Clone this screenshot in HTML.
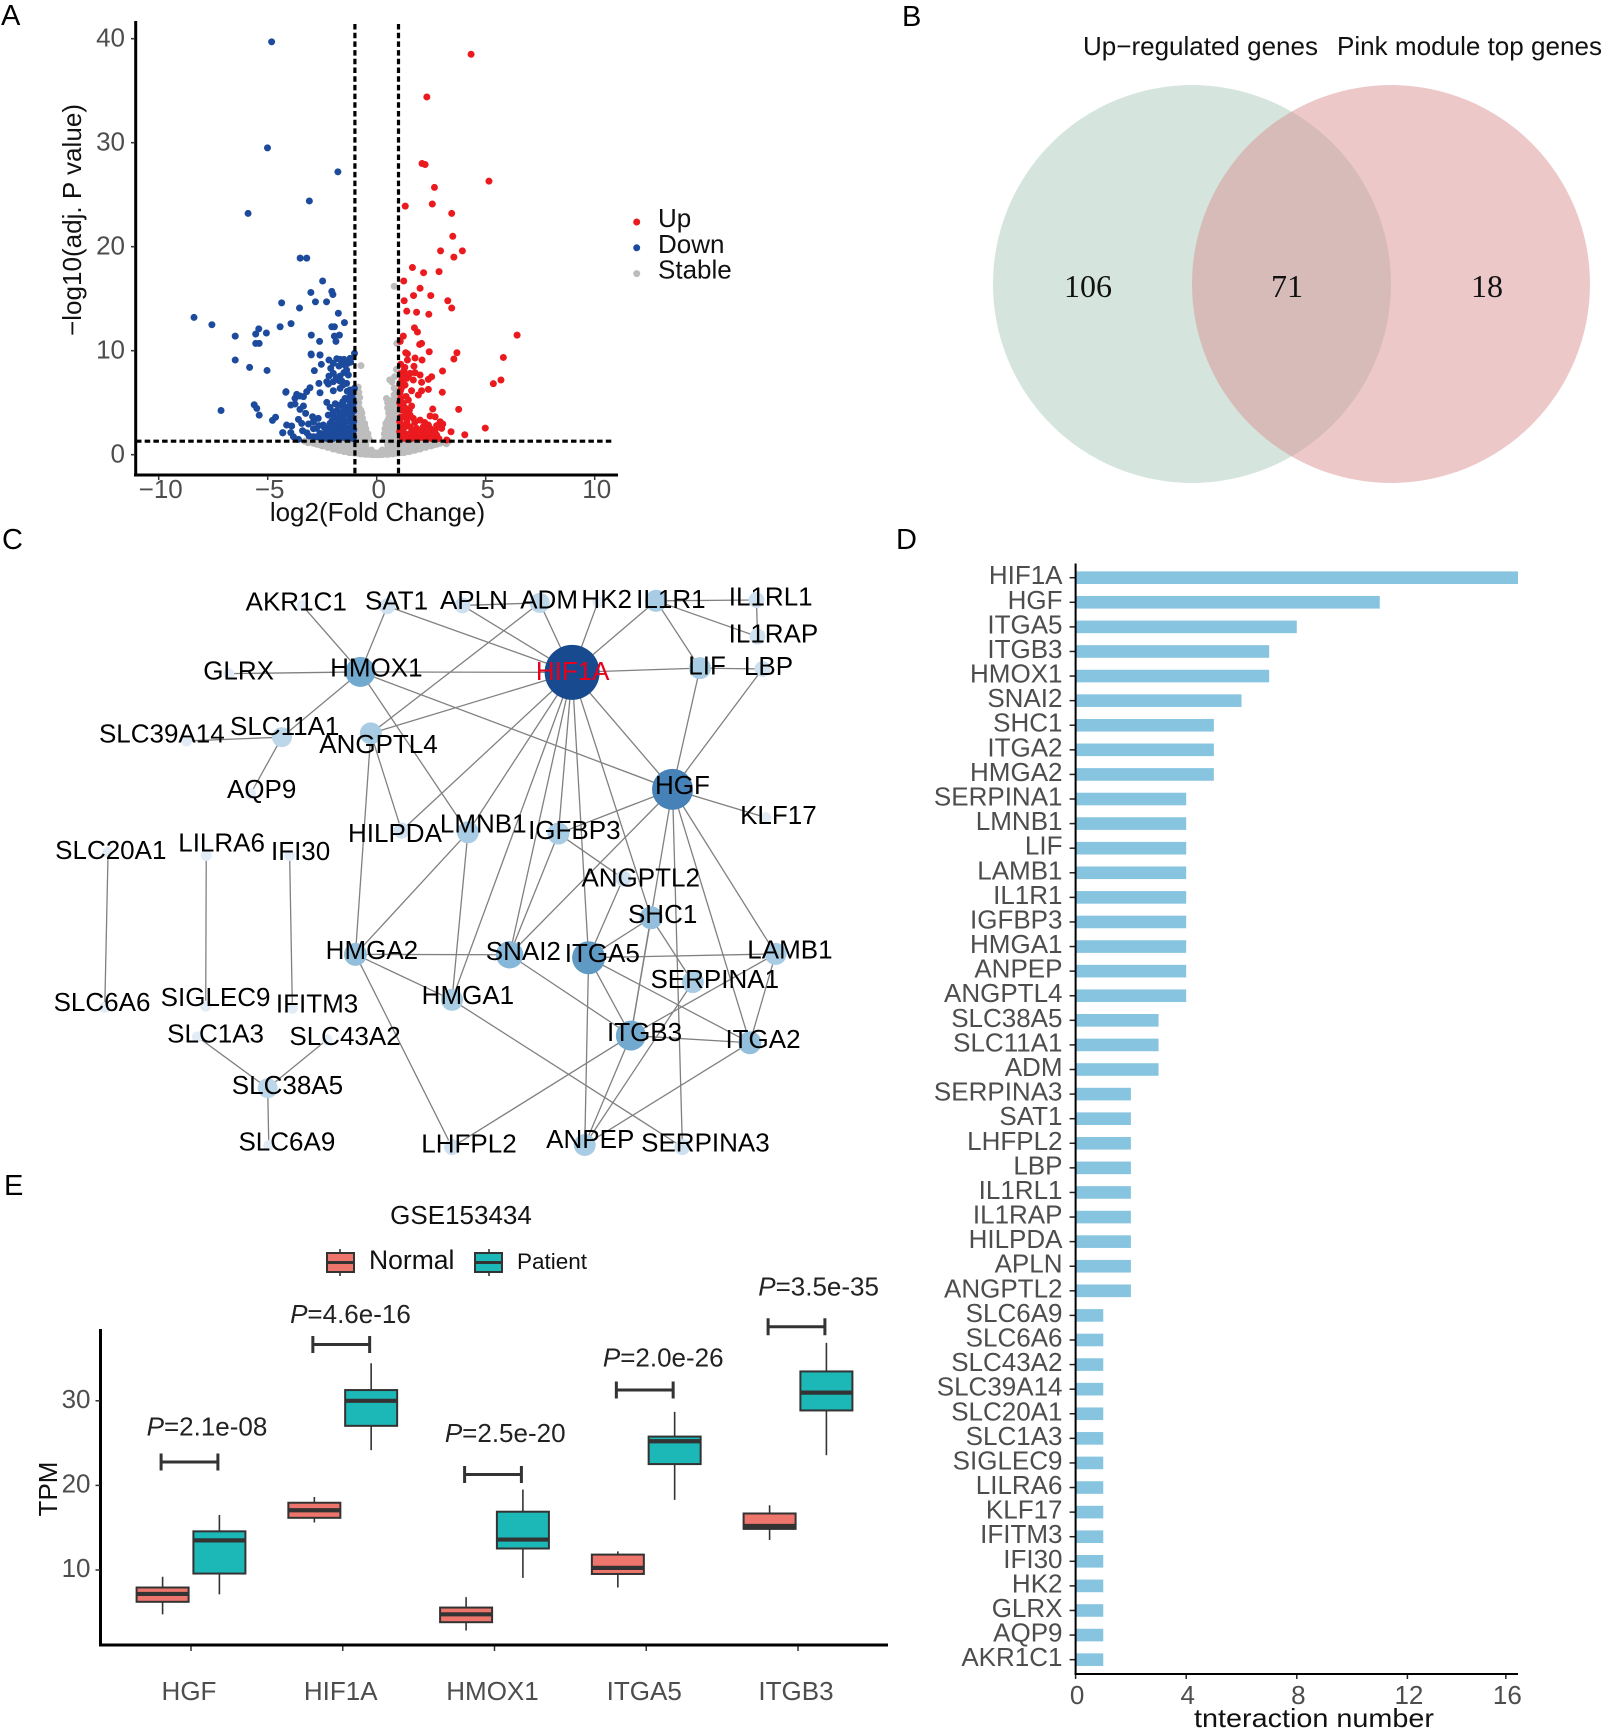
<!DOCTYPE html>
<html lang="en">
<head>
<meta charset="utf-8">
<title>Multi-panel gene expression figure</title>
<style>
html,body{margin:0;padding:0;background:#fff;}
svg{display:block;font-family:"Liberation Sans",Arial,sans-serif;}
.panel{font-size:29px;fill:#000;}
.tick{fill:#4d4d4d;font-size:26px;}
</style>
</head>
<body>
<svg id="fig" xmlns="http://www.w3.org/2000/svg" width="1605" height="1731" viewBox="0 0 1605 1731">
  <rect width="1605" height="1731" fill="#fff"/>
  <text class="panel" x="1" y="25">A</text>
  <text class="panel" x="902" y="26">B</text>
  <text class="panel" x="2" y="549">C</text>
  <text class="panel" x="896" y="549">D</text>
  <text class="panel" x="4" y="1195">E</text>

  <g id="volcano"></g>
  <text x="377.5" y="521" font-size="26" text-anchor="middle" fill="#111">log2(Fold Change)</text>
  <text transform="translate(81,220) rotate(-90)" font-size="26" text-anchor="middle" fill="#111" textLength="232" lengthAdjust="spacingAndGlyphs">−log10(adj. P value)</text>

  <g>
    <ellipse cx="1192" cy="284" rx="199" ry="199" fill="#d5e5de"/>
    <ellipse cx="1391" cy="284" rx="199" ry="199" fill="#d99191" fill-opacity="0.5"/>
    <text x="1083" y="55" font-size="26" fill="#111" textLength="235" lengthAdjust="spacingAndGlyphs">Up−regulated genes</text>
    <text x="1337" y="55" font-size="26" fill="#111" textLength="265" lengthAdjust="spacingAndGlyphs">Pink module top genes</text>
    <text x="1088" y="297" font-size="32" text-anchor="middle" fill="#111" style="font-family:'Liberation Serif',serif">106</text>
    <text x="1287" y="297" font-size="32" text-anchor="middle" fill="#111" style="font-family:'Liberation Serif',serif">71</text>
    <text x="1487" y="297" font-size="32" text-anchor="middle" fill="#111" style="font-family:'Liberation Serif',serif">18</text>
  </g>

  <g id="network"></g>
  <g id="bars"></g>
  <text x="1314" y="1727" font-size="26" text-anchor="middle" fill="#111" textLength="240" lengthAdjust="spacingAndGlyphs">tnteraction number</text>

  <g id="boxes"></g>
  <text x="461" y="1224" font-size="26" text-anchor="middle" fill="#111">GSE153434</text>
  <text transform="translate(57,1489) rotate(-90)" font-size="26" text-anchor="middle" fill="#111">TPM</text>
  <g>
    <line x1="340" x2="340" y1="1249" y2="1276" stroke="#333" stroke-width="1.6"/>
    <rect x="327" y="1253" width="27" height="19" fill="#ee756c" stroke="#333" stroke-width="2"/>
    <line x1="327" x2="354" y1="1262.5" y2="1262.5" stroke="#333" stroke-width="3"/>
    <text x="369" y="1269" font-size="26.5" fill="#111">Normal</text>
    <line x1="489" x2="489" y1="1249" y2="1276" stroke="#333" stroke-width="1.6"/>
    <rect x="475" y="1253" width="27" height="19" fill="#1cb7b7" stroke="#333" stroke-width="2"/>
    <line x1="475" x2="502" y1="1262.5" y2="1262.5" stroke="#333" stroke-width="3"/>
    <text x="517" y="1269" font-size="22.5" fill="#111">Patient</text>
  </g>
</svg>
<script>
// ---------- Panel A: volcano values as [log2FC, -log10 adj P] ----------
const volcanoXTicks = [-10, -5, 0, 5, 10];
const volcanoYTicks = [0, 10, 20, 30, 40];
const volcanoFcCut = [-1, 1];
const volcanoPCut = 1.3;
const volcanoLegend = ['Up', 'Down', 'Stable'];
const stablePoints = [
[-3.3,1.3],[-3,1.2],[-2.75,1],[-2.75,1.25],[-2.5,.85],[-2.5,1.15],[-2.25,.7],[-2.25,1.1],[-2,.55],[-2,.95],[-2,1.25],[-1.75,.42],[-1.75,.8],[-1.75,1.2],[-1.5,.3],[-1.5,.7],[-1.5,1.1],[-1.25,.2],[-1.25,.6],[-1.25,1],[-1.25,1.3],[-1,.15],[-1,.5],[-1,.9],[-1,1.3],[-.75,.08],[-.75,.4],[-.75,.75],[-.75,1.1],[-.5,.03],[-.5,.3],[-.5,.6],[-.5,.95],[-.25,.01],[-.25,.2],[-.25,.45],[0,0],[0,.15],
[3.3,1.3],[3.2,1.05],[3,1.2],[2.75,1],[2.75,1.25],[2.5,.85],[2.5,1.15],[2.25,.7],[2.25,1.1],[2,.55],[2,.95],[2,1.25],[1.75,.42],[1.75,.8],[1.75,1.2],[1.5,.3],[1.5,.7],[1.5,1.1],[1.25,.2],[1.25,.6],[1.25,1],[1.25,1.3],[1,.15],[1,.5],[1,.9],[1,1.3],[.75,.08],[.75,.4],[.75,.75],[.75,1.1],[.5,.03],[.5,.3],[.5,.6],[.5,.95],[.25,.01],[.25,.2],[.25,.45],
[-3.15,1.15],[-2.9,1.1],[-2.62,.95],[-2.38,.85],[-2.12,.7],[-2.12,1.1],[-1.88,.55],[-1.88,.95],[-1.62,.4],[-1.62,.85],[-1.38,.3],[-1.38,.75],[-1.12,.2],[-1.12,.7],[-.88,.15],[-.88,.6],[-.62,.08],[-.62,.5],[-.38,.05],[-.38,.35],[-.12,0],[-.12,.2],
[3.15,1.15],[2.9,1.1],[2.62,.95],[2.38,.85],[2.12,.7],[2.12,1.1],[1.88,.55],[1.88,.95],[1.62,.4],[1.62,.85],[1.38,.3],[1.38,.75],[1.12,.2],[1.12,.7],[.88,.15],[.88,.6],[.62,.08],[.62,.5],[.38,.05],[.38,.35],[.12,0],[.12,.2],
[-.95,1.5],[-.75,1.5],[-.55,1.5],[-.35,1.5],[-.95,2],[-.75,2],[-.6,2],[-.4,2],[-.95,2.5],[-.8,2.5],[-.6,2.5],[-.5,2.5],[-.95,3],[-.8,3],[-.65,3],[-.55,3],[-.95,3.5],[-.8,3.5],[-.65,3.5],[-.95,4],[-.8,4],[-.68,4],[-.95,4.5],[-.8,4.5],[-.95,5],[-.82,5],[-.9,5.5],[-.78,5.5],[-.9,6],[-.82,6],[-.85,6.5],[-.72,8.56],
[-.85,1.75],[-.65,1.75],[-.45,1.75],[-.85,2.25],[-.65,2.25],[-.5,2.25],[-.85,2.75],[-.7,2.75],[-.55,2.75],[-.88,3.25],[-.7,3.25],[-.88,3.75],[-.72,3.75],[-.88,4.25],[-.72,4.25],[-.88,4.75],
[.95,1.5],[.75,1.5],[.55,1.5],[.35,1.5],[.95,2],[.75,2],[.55,2],[.35,2],[.95,2.5],[.75,2.5],[.55,2.5],[.38,2.5],[.95,3],[.75,3],[.55,3],[.42,3],[.95,3.5],[.75,3.5],[.55,3.5],[.95,4],[.75,4],[.55,4],[.95,4.5],[.75,4.5],[.5,4.5],[.95,5],[.75,5],[.5,5],[.9,5.5],[.45,5.4],[.62,5.2],[.9,6],[.8,6.4],[.7,7],[.6,7.2],[.82,7.5],[.9,8.2],[.92,10.7],[.8,16.2],
[.85,1.75],[.65,1.75],[.45,1.75],[.85,2.25],[.65,2.25],[.45,2.25],[.85,2.75],[.65,2.75],[.48,2.75],[.85,3.25],[.65,3.25],[.5,3.25],[.85,3.75],[.65,3.75],[.85,4.25],[.65,4.25],[.85,4.75],[.62,4.75],[.85,5.25],[.8,5.75]
];
const downPoints = [
[-4.82,39.7],[-5.01,29.5],[-1.78,27.2],[-3.09,24.4],[-5.9,23.2],[-3.51,18.9],[-3.21,18.9],[-2.48,16.7],[-3.02,15.6],[-2.06,15.7],[-2.01,15.4],[-4.36,14.6],[-2.81,14.7],[-2.3,14.7],[-3.54,14.1],[-1.76,13.6],[-8.38,13.2],[-7.56,12.5],[-4.43,12.3],[-3.93,12.6],[-1.48,12.7],[-2.06,12.3],[-1.94,12.3],[-6.49,11.4],[-5.41,12.1],[-5.55,11.6],[-5.06,11.7],[-3,11.5],[-1.94,11.4],[-1.71,11.5],[-2.62,10.9],[-1.87,10.9],[-5.55,10.7],[-5.39,10.7],[-3,9.6],[-2.6,9.6],[-6.49,9.1],[-5.83,8.4],[-5.03,8.1],[-7.14,4.25],[-5.62,4.8],[-5.5,4.45],[-5.39,3.8],[-4.78,3.3],[-4.64,3.6],[-4.31,2.1],[-4.17,6],
[-3.01,9.68],[-2.6,9.58],[-1.68,9.17],[-1.5,9.17],[-1.22,9.26],[-1.02,9.74],[-2.19,9.1],[-1.83,9.23],[-1.99,8.78],[-2.54,8.69],[-2.86,8.08],[-2.11,8.3],[-1.73,8.53],[-1.33,8.78],[-1.99,7.82],[-2.19,7.56],[-1.68,7.56],[-1.38,8.14],[-1.3,7.66],[-2.29,7.02],[-2.65,6.86],[-1.99,7.02],[-1.6,7.08],[-1.38,6.86],[-2.22,6.79],[-1.99,6.15],[-2.6,5.96],[-3.06,6.44],[-3.21,6.06],[-4.16,6.06],[-3.67,5.8],[-3.52,5.64],[-3.36,5.58],[-3.75,5.42],[-1.68,6.38],[-1.22,6.22],[-1.02,6.38],[-1.22,5.58],[-1.45,5.42],[-1.22,5.1],[-3.94,4.78],[-3.75,4.87],[-3.52,4.36],[-3.36,4.68],[-3.26,3.97],[-2.29,5.03],[-2.14,4.55],[-1.68,4.78],[-1.45,4.62],[-1.22,4.68],[-1.99,4.13],[-1.68,3.97],[-1.38,3.97],[-1.15,3.97],[-2.22,3.81],[-1.84,3.49],[-1.53,3.4],[-1.22,3.49],[-2.94,3.65],[-2.68,3.49],[-3.59,3.4],[-3.44,3.01],[-3.13,2.95],[-2.9,3.17],[-2.14,3.01],[-2.45,2.85],[-1.84,2.85],[-1.53,2.85],[-1.15,2.85],[-4.13,2.85],[-3.9,2.76],[-2.76,2.53],[-2.22,2.53],[-1.91,2.37],[-1.6,2.37],[-1.3,2.44],[-1.12,2.31],[-4.31,2.12],[-3.94,2.12],[-2.6,2.05],[-2.37,2.05],[-2.06,1.99],[-1.76,2.05],[-1.45,1.99],[-1.22,1.99],[-3.82,1.73],[-3.59,1.47],[-2.75,1.73],[-2.45,1.73],[-2.14,1.73],[-1.84,1.67],[-1.53,1.67],[-1.22,1.67],[-2.9,1.73],[-1.05,1.7],[-1.05,2.4],[-1.05,3.2],[-1.05,4.2],[-1.05,5],
[-2.3,2.3],[-2,2.6],[-1.7,2.7],[-1.4,2.6],[-1.1,2.6],[-2.05,3.25],[-1.7,3.2],[-1.4,3.2],[-1.1,3.2],[-1.95,3.7],[-1.55,3.7],[-1.25,3.75],[-1.8,4.3],[-1.5,4.3],[-1.2,4.3],[-1.9,4.9],[-1.55,5.1],[-1.3,5.3],[-1.1,5.4],[-1.1,4.6],[-1.35,6.1],[-1.1,5.9],[-1.7,7.1],[-1.55,6.7],[-1.85,7.4],[-1.5,7.9],[-1.45,8.6],[-1.2,8.9],[-1.6,8.9],[-2.4,2.6],[-2.65,2.8],[-2.9,2.5],[-3.2,2.1],[-3.4,2.3],[-3.1,1.8],[-2.55,1.55],[-2.3,1.55],[-2,1.55],[-1.7,1.55],[-1.4,1.55],[-1.1,1.55],[-1.9,2.05],[-1.6,1.9],[-1.35,1.85],[-1.1,1.95]
];
const upPoints = [
[4.33,38.5],[2.3,34.4],[2.08,28],[2.22,27.9],[5.15,26.3],[2.65,25.7],[2.55,24.1],[1.31,23.9],[3.44,23.2],[3.49,21],[2.93,19.6],[3.93,19.6],[3.54,19],[1.64,18],[2.15,17.5],[2.86,17.6],[1.24,16.7],[1.99,16],[1.69,15.3],[2.48,15.3],[1.26,14.8],[3.26,14.8],[3.44,14.1],[1.38,13.8],[1.83,13.7],[2.39,13.5],[1.73,12.2],[1.87,11.8],[6.44,11.5],[1.22,11.4],[1.08,10.9],[2.06,10.7],[1.97,10.6],[2.41,9.9],[3.68,9.8],[1.33,9.8],[1.41,9.7],[1.76,9.3],[5.81,9.35],[3.54,9.2],[1.41,9.1],[2.08,9.1],[1.1,8.7],[1.71,8.5],[1.29,8.4],[3.02,8.05],
[1.22,7.66],[1.53,7.82],[1.76,7.88],[1.99,7.66],[1.15,7.18],[1.38,7.34],[1.68,7.18],[2.52,7.5],[2.37,7.24],[2.06,6.96],[5.7,7.18],[5.35,6.83],[1.15,6.47],[1.6,6.15],[2.06,6.15],[2.37,6.28],[3.01,6],[1.07,5.9],[1.91,5.74],[1.45,5.26],[1.22,4.94],[1.6,4.68],[3.76,4.36],[2.57,4.39],[2.45,3.72],[1.35,4.13],[1.15,4.3],[1.53,3.81],[1.22,3.65],[1.68,3.49],[1.38,3.17],[1.99,3.33],[2.91,3.17],[3.03,2.95],[2.68,3.65],[2.37,2.85],[2.14,2.69],[2.45,2.53],[1.15,2.69],[1.53,2.69],[1.83,2.53],[2.68,2.37],[2.98,2.53],[4.98,2.56],[4.04,1.92],[3.41,2.21],[1.22,2.21],[1.53,2.05],[1.83,1.99],[2.14,2.05],[2.45,1.99],[2.75,1.89],[1.15,1.73],[1.45,1.67],[1.76,1.67],[2.06,1.67],[2.37,1.67],[2.68,1.67],[3.21,1.41],[1.05,3.2],[1.05,5],[1.05,6.8],[1.05,2.2],
[1.3,1.55],[1.6,1.55],[1.9,1.55],[2.2,1.55],[2.5,1.55],[2.85,1.55],[1.3,2],[1.7,2.3],[2,2.3],[2.3,2.2],[2.6,2.1],[1.3,2.7],[1.4,3.5],[1.1,3.6],[1.1,4.7],[1.3,4.5],[1.5,4.3],[1.1,5.4],[1.35,5.6],[1.1,6.2],[1.3,6.7],[1.45,7.6],[1.1,7.8],[1.25,8.1],[2.75,2.8],[2.2,3.1],[1.75,3.1],[1.1,2.9]
];

// ---------- Panel D: bar chart values ----------
const barGenes = ['HIF1A','HGF','ITGA5','ITGB3','HMOX1','SNAI2','SHC1','ITGA2','HMGA2','SERPINA1','LMNB1','LIF','LAMB1','IL1R1','IGFBP3','HMGA1','ANPEP','ANGPTL4','SLC38A5','SLC11A1','ADM','SERPINA3','SAT1','LHFPL2','LBP','IL1RL1','IL1RAP','HILPDA','APLN','ANGPTL2','SLC6A9','SLC6A6','SLC43A2','SLC39A14','SLC20A1','SLC1A3','SIGLEC9','LILRA6','KLF17','IFITM3','IFI30','HK2','GLRX','AQP9','AKR1C1'];
const barValues = [16,11,8,7,7,6,5,5,5,4,4,4,4,4,4,4,4,4,3,3,3,2,2,2,2,2,2,2,2,2,1,1,1,1,1,1,1,1,1,1,1,1,1,1,1];
const barTickValues = [0,4,8,12,15.56];
const barTickLabels = ['0','4','8','12','16'];

// ---------- Panel C: network ----------
const netGenes = ['AKR1C1','SAT1','APLN','ADM','HK2','IL1R1','IL1RL1','IL1RAP','GLRX','HMOX1','HIF1A','LIF','LBP','SLC39A14','SLC11A1','ANGPTL4','AQP9','HGF','KLF17','HILPDA','LMNB1','IGFBP3','SLC20A1','LILRA6','IFI30','ANGPTL2','SHC1','HMGA2','SNAI2','ITGA5','LAMB1','SERPINA1','SLC6A6','SIGLEC9','IFITM3','HMGA1','SLC1A3','SLC43A2','ITGB3','ITGA2','SLC38A5','SLC6A9','LHFPL2','ANPEP','SERPINA3'];
const netLayoutX = [551,706,843,984,1090,1196,1379,1381,417,657,1043,1276,1390,340,514,676,457,1226,1396,732,853,1018,197,376,528,1136,1187,648,929,1073,1414,1263,191,375,533,824,360,596,1150,1367,488,490,824,1066,1244];
const netLayoutY = [203,205,203,197,195,192,190,277,365,361,362,352,354,525,516,507,650,640,707,738,742,745,790,797,797,852,945,1032,1033,1040,1031,1098,1158,1155,1160,1140,1228,1235,1225,1242,1350,1486,1490,1485,1490];
const netLabelX = [540,723,864,1001,1106,1223,1405,1410,435,686,1044,1289,1401,295,519,690,477,1244,1419,720,881,1047,202,404,548,1168,1208,678,954,1098,1440,1303,186,393,578,853,393,629,1175,1391,524,523,855,1076,1286];
const netLabelY = [215,213,212,210,209,209,203,291,379,372,380,367,368,529,511,554,660,651,722,765,743,758,806,788,808,871,957,1043,1045,1050,1042,1112,1167,1155,1170,1150,1241,1247,1238,1254,1364,1498,1503,1492,1500];
const netEdges = [['AKR1C1','HMOX1'],['SAT1','HMOX1'],['SAT1','HIF1A'],['APLN','ADM'],['APLN','HIF1A'],['ADM','HIF1A'],['ADM','ANGPTL4'],['HK2','HIF1A'],['IL1R1','HIF1A'],['IL1R1','IL1RL1'],['IL1R1','IL1RAP'],['IL1R1','LIF'],['IL1RL1','IL1RAP'],['GLRX','HMOX1'],['HMOX1','HIF1A'],['HMOX1','SLC11A1'],['HMOX1','LMNB1'],['HMOX1','HGF'],['HIF1A','LIF'],['LIF','LBP'],['HIF1A','ANGPTL4'],['HIF1A','HILPDA'],['HIF1A','HGF'],['HIF1A','LMNB1'],['HIF1A','HMGA1'],['HIF1A','IGFBP3'],['HIF1A','SNAI2'],['HIF1A','ITGA5'],['HIF1A','SHC1'],['HGF','LIF'],['HGF','LBP'],['HGF','KLF17'],['HGF','IGFBP3'],['HGF','SNAI2'],['HGF','ITGB3'],['HGF','SERPINA3'],['HGF','ITGA2'],['HGF','LAMB1'],['ANGPTL4','HMGA2'],['ANGPTL4','HILPDA'],['LMNB1','HMGA2'],['LMNB1','HMGA1'],['IGFBP3','SNAI2'],['IGFBP3','ANGPTL2'],['ANGPTL2','ITGA5'],['SHC1','ITGA5'],['SHC1','ITGB3'],['SHC1','SERPINA1'],['HMGA2','SNAI2'],['HMGA2','HMGA1'],['HMGA2','LHFPL2'],['SNAI2','ITGB3'],['ITGA5','LAMB1'],['ITGA5','ITGB3'],['ITGA5','ITGA2'],['ITGA5','ANPEP'],['HMGA1','SERPINA3'],['SERPINA1','ANPEP'],['LAMB1','ITGA2'],['LAMB1','ITGB3'],['ITGB3','ITGA2'],['ITGB3','LHFPL2'],['ITGB3','ANPEP'],['ITGA2','ANPEP'],['SLC20A1','SLC6A6'],['LILRA6','SIGLEC9'],['IFI30','IFITM3'],['SLC1A3','SLC38A5'],['SLC43A2','SLC38A5'],['SLC38A5','SLC6A9'],['SLC39A14','SLC11A1'],['SLC11A1','AQP9']];
const degreeRadius = {16:27.5,11:20.5,8:16.5,7:15,6:13.7,5:11.5,4:11,3:10,2:8,1:5.5};
const degreeColor = {16:'#174a8e',11:'#4682b8',8:'#5f9ac5',7:'#72aacf',6:'#86b7d8',5:'#93bfdc',4:'#a8cce4',3:'#bcd7ea',2:'#cfe1f0',1:'#e2ecf7'};

// ---------- Panel E: box plot values ----------
const boxGenes = ['HGF','HIF1A','HMOX1','ITGA5','ITGB3'];
const boxYTicks = [10,20,30];
const normalQ1 = [6.24,16.17,3.83,9.53,14.86];
const normalMedian = [7.17,17.06,4.76,10.25,15.2];
const normalQ3 = [7.93,17.95,5.56,11.82,16.68];
const normalLow = [4.76,15.62,2.85,7.93,13.55];
const normalHigh = [9.2,18.63,6.79,12.2,17.65];
const patientQ1 = [9.58,27.04,12.54,22.52,28.86];
const patientMedian = [13.5,30,13.6,25.22,30.97];
const patientQ3 = [14.57,31.27,16.89,25.77,33.47];
const patientLow = [7.12,24.16,9.07,18.29,23.57];
const patientHigh = [16.5,34.44,19.51,28.69,36.85];
const bracketLevels = [22.77,36.65,21.29,31.27,38.75];
const pLabels = ['2.1e-08','4.6e-16','2.5e-20','2.0e-26','3.5e-35'];
const pLabelLevels = [25.9,39.2,25.13,34.05,42.47];
const pLabelShift = [16,7.7,10.7,17,20.6];

const NS = 'http://www.w3.org/2000/svg';
function mk(tag, attrs, parent) {
  const el = document.createElementNS(NS, tag);
  for (const k in attrs) el.setAttribute(k, attrs[k]);
  parent.appendChild(el);
  return el;
}

// ===== Volcano =====
(function () {
  const g = document.getElementById('volcano');
  const vx = v => 376.7 + v * 21.8;
  const vy = v => 454.7 - v * 10.4;
  const groups = [[stablePoints, '#bdbdbd', 'stable'], [downPoints, '#1c4a9c', 'down'], [upPoints, '#ea1a1f', 'up']];
  groups.forEach(function (grp) {
    grp[0].forEach(function (p) {
      const el = mk('circle', {cx: vx(p[0]), cy: vy(p[1]), r: 3.5, fill: grp[1]}, g);
      
      
    });
  });
  volcanoFcCut.forEach(function (c) {
    const el = mk('line', {x1: vx(c), x2: vx(c), y1: 24, y2: 475, stroke: '#000', 'stroke-width': 3.2, 'stroke-dasharray': '5.5 3.2'}, g);
    
    
  });
  const h = mk('line', {x1: 136, x2: 614, y1: vy(volcanoPCut), y2: vy(volcanoPCut), stroke: '#000', 'stroke-width': 3.2, 'stroke-dasharray': '5.5 3.2'}, g);
  
  
  const ya = mk('line', {x1: 135.7, x2: 135.7, y1: 21, y2: 476.5, stroke: '#000', 'stroke-width': 3}, g);
  
  
  const xa = mk('line', {x1: 134, x2: 618, y1: 475, y2: 475, stroke: '#000', 'stroke-width': 3}, g);
  
  
  volcanoYTicks.forEach(function (t) {
    const tk = mk('line', {x1: 131, x2: 135, y1: vy(t), y2: vy(t), stroke: '#333', 'stroke-width': 1.5}, g);
    
    
    const lb = mk('text', {x: 125, y: vy(t) + 8, 'text-anchor': 'end', class: 'tick'}, g);
    lb.textContent = t;
    
    
  });
  volcanoXTicks.forEach(function (t) {
    const tk = mk('line', {x1: vx(t), x2: vx(t), y1: 476, y2: 480, stroke: '#333', 'stroke-width': 1.5}, g);
    
    
    const lb = mk('text', {x: vx(t) + 2, y: 498, 'text-anchor': 'middle', class: 'tick'}, g);
    lb.textContent = String(t).replace('-', '−');
    
    
  });
  const colors = ['#ea1a1f', '#1c4a9c', '#bdbdbd'];
  volcanoLegend.forEach(function (name, i) {
    const ly = 222 + i * 25.8;
    const d = mk('circle', {cx: 636.7, cy: ly, r: 3.5, fill: colors[i]}, g);
    
    
    const t = mk('text', {x: 658, y: ly + 5, 'font-size': 26, fill: '#111'}, g);
    t.textContent = name;
    
    
  });
})();

// ===== Network =====
(function () {
  const g = document.getElementById('network');
  const nx = v => v / 1.823;
  const ny = v => 520 + v / 2.376;
  const idx = name => netGenes.indexOf(name);
  const degree = name => barValues[barGenes.indexOf(name)];
  netEdges.forEach(function (e) {
    const a = idx(e[0]), b = idx(e[1]);
    const el = mk('line', {x1: nx(netLayoutX[a]), y1: ny(netLayoutY[a]), x2: nx(netLayoutX[b]), y2: ny(netLayoutY[b]), stroke: '#808080', 'stroke-width': 1.3}, g);
    
    
  });
  netGenes.forEach(function (name, i) {
    const d = degree(name);
    const el = mk('circle', {cx: nx(netLayoutX[i]), cy: ny(netLayoutY[i]), r: degreeRadius[d], fill: degreeColor[d]}, g);
    
    
  });
  netGenes.forEach(function (name, i) {
    const t = mk('text', {x: nx(netLabelX[i]), y: ny(netLabelY[i]), 'text-anchor': 'middle', 'font-size': 26, fill: name === 'HIF1A' ? '#e8001c' : '#000'}, g);
    t.textContent = name;
    
    
  });
})();

// ===== Bars =====
(function () {
  const g = document.getElementById('bars');
  const bx = v => 1075.6 + v * 27.65;
  const by = i => 577.7 + i * 24.59;
  barGenes.forEach(function (gene, i) {
    const b = mk('rect', {x: bx(0), y: by(i) - 6.3, width: bx(barValues[i]) - bx(0), height: 12.6, fill: '#86c4e0'}, g);
    
    
    const tk = mk('line', {x1: bx(0) - 6, x2: bx(0), y1: by(i), y2: by(i), stroke: '#222', 'stroke-width': 1.5}, g);
    
    
    const t = mk('text', {x: 1062.5, y: by(i) + 6.5, 'text-anchor': 'end', class: 'tick'}, g);
    t.textContent = gene;
    
    
  });
  const ya = mk('line', {x1: bx(0), x2: bx(0), y1: 563.5, y2: 1675, stroke: '#000', 'stroke-width': 2}, g);
  
  
  const xa = mk('line', {x1: bx(0) - 1, x2: 1518, y1: 1674, y2: 1674, stroke: '#000', 'stroke-width': 2}, g);
  
  
  barTickValues.forEach(function (v, i) {
    const tk = mk('line', {x1: bx(v), x2: bx(v), y1: 1675, y2: 1679, stroke: '#222', 'stroke-width': 1.5}, g);
    
    
    const t = mk('text', {x: bx(v) + 1.5, y: 1704, 'text-anchor': 'middle', class: 'tick'}, g);
    t.textContent = barTickLabels[i];
    
    
  });
})();

// ===== Box plot =====
(function () {
  const g = document.getElementById('boxes');
  const by = v => 1570 - (v - 10) * 8.46;
  const cx = i => 191 + i * 151.75;
  const half = 26, off = 28.4;
  function box(center, q1, med, q3, lo, hi, fill, label) {
    const w = mk('line', {x1: center, x2: center, y1: by(hi), y2: by(lo), stroke: '#333', 'stroke-width': 1.6}, g);
    
    
    const r = mk('rect', {x: center - half, y: by(q3), width: half * 2, height: by(q1) - by(q3), fill: fill, stroke: '#333', 'stroke-width': 2}, g);
    
    
    const m = mk('line', {x1: center - half, x2: center + half, y1: by(med), y2: by(med), stroke: '#333', 'stroke-width': 4.2}, g);
    
    
  }
  boxGenes.forEach(function (gene, i) {
    box(cx(i) - off, normalQ1[i], normalMedian[i], normalQ3[i], normalLow[i], normalHigh[i], '#ee756c', gene + '-normal');
    box(cx(i) + off, patientQ1[i], patientMedian[i], patientQ3[i], patientLow[i], patientHigh[i], '#1cb7b7', gene + '-patient');
    const yb = by(bracketLevels[i]);
    const x1 = cx(i) - off - 1.5, x2 = cx(i) + off - 1.5;
    const bl = mk('path', {d: 'M' + x1 + ' ' + (yb - 8.5) + 'V' + (yb + 8.5) + 'M' + x1 + ' ' + yb + 'H' + x2 + 'M' + x2 + ' ' + (yb - 8.5) + 'V' + (yb + 8.5), fill: 'none', stroke: '#333', 'stroke-width': 3}, g);
    
    
    const p = mk('text', {x: cx(i) + pLabelShift[i], y: by(pLabelLevels[i]), 'text-anchor': 'middle', 'font-size': 26, fill: '#222'}, g);
    const it = mk('tspan', {'font-style': 'italic'}, p);
    it.textContent = 'P';
    const rest = mk('tspan', {}, p);
    rest.textContent = '=' + pLabels[i];
    
    
    const tk = mk('line', {x1: cx(i), x2: cx(i), y1: 1646, y2: 1651, stroke: '#333', 'stroke-width': 1.5}, g);
    
    
    const t = mk('text', {x: cx(i) - 2, y: 1700, 'text-anchor': 'middle', class: 'tick'}, g);
    t.textContent = gene;
    
    
  });
  const ya = mk('line', {x1: 100.5, x2: 100.5, y1: 1329, y2: 1646, stroke: '#000', 'stroke-width': 3}, g);
  
  
  const xa = mk('line', {x1: 99, x2: 888, y1: 1645, y2: 1645, stroke: '#000', 'stroke-width': 3}, g);
  
  
  boxYTicks.forEach(function (v) {
    const tk = mk('line', {x1: 95.5, x2: 100, y1: by(v), y2: by(v), stroke: '#333', 'stroke-width': 1.5}, g);
    
    
    const t = mk('text', {x: 90.5, y: by(v) + 7, 'text-anchor': 'end', class: 'tick'}, g);
    t.textContent = v;
    
    
  });
})();
</script>
</body>
</html>
